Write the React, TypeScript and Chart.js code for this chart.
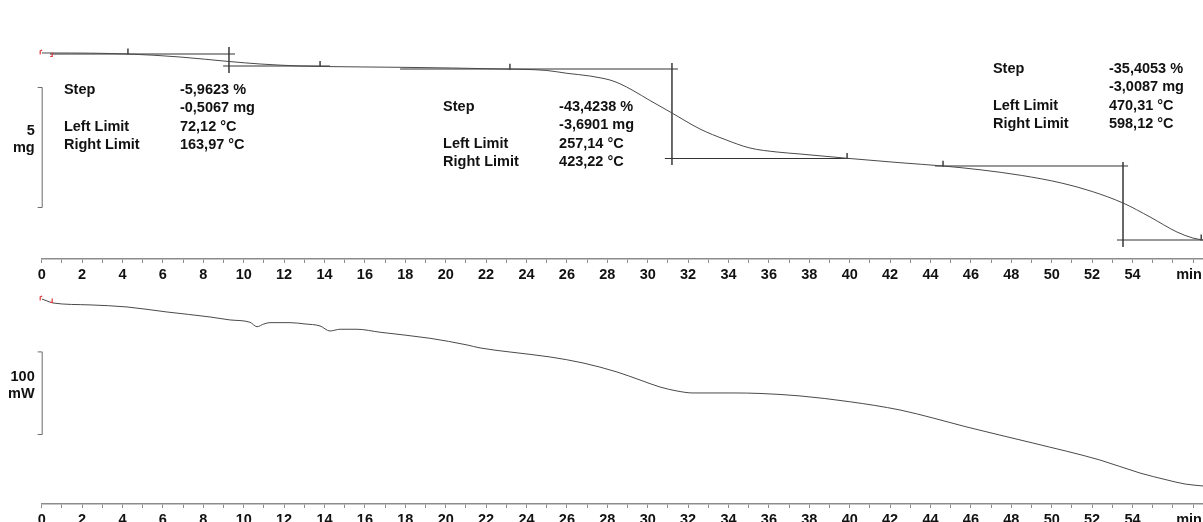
import React, { useEffect, useRef } from "react";
import { Chart, registerables } from "chart.js";

Chart.register(...registerables);

const FONT = '"Liberation Sans", Arial, Helvetica, sans-serif';
const X_MAX = 57.49;

// x axis: minor ticks every minute, labels every 2 minutes, unit label "min"
const xMinorTicks = Array.from({ length: 58 }, (_, i) => i);
const xTickLabels = ["0", "2", "4", "6", "8", "10", "12", "14", "16", "18", "20", "22", "24", "26", "28", "30", "32", "34", "36", "38", "40", "42", "44", "46", "48", "50", "52", "54"];
const xUnitTick = 56.8;
const xUnitLabel = "min";

// TGA curve (time in min, mass in mg)
const tgaTime = [0, 0.56, 4.27, 6.85, 9.27, 10.81, 12.79, 13.78, 17.74, 22.84, 25.01, 26.0, 27.14, 27.64, 28.13, 28.63, 29.27, 30.11, 31.2, 32.59, 33.83, 35.06, 36.4, 37.54, 39.87, 42.49, 44.62, 46.5, 48.5, 50.5, 52.0, 53.53, 54.87, 56.2, 56.99, 57.49];
const tgaMass = [8.5, 8.5, 8.458, 8.333, 8.146, 8.042, 7.958, 7.938, 7.904, 7.833, 7.771, 7.654, 7.542, 7.467, 7.375, 7.217, 6.938, 6.521, 6.0, 5.333, 4.896, 4.542, 4.375, 4.292, 4.113, 3.929, 3.792, 3.63, 3.4, 3.08, 2.73, 2.25, 1.667, 1.042, 0.79, 0.708];

// DSC curve (time in min, heat flow in mW, arbitrary offset)
const dscTime = [0, 0.26, 0.56, 2.39, 4.22, 6.2, 8.33, 9.32, 10.31, 10.66, 11.0, 11.3, 12.29, 13.04, 13.78, 14.27, 14.77, 15.61, 16.75, 19.22, 21.06, 21.7, 23.18, 25.16, 26.8, 28.48, 29.62, 30.61, 31.45, 32.24, 34.22, 35.56, 37.54, 40.0, 42.49, 44.12, 45.8, 49.07, 52.38, 54.37, 55.71, 56.6, 57.49];
const dscPower = [248.2, 245.8, 243.3, 241.0, 238.5, 232.4, 226.4, 222.8, 220.0, 214.6, 217.9, 219.5, 219.5, 217.9, 215.5, 209.4, 211.5, 211.5, 207.9, 200.6, 192.5, 188.9, 184.0, 178.0, 170.7, 159.8, 150.1, 141.6, 136.8, 134.4, 134.4, 133.8, 130.8, 123.8, 113.8, 104.1, 93.2, 73.8, 53.3, 37.5, 29.1, 24.2, 21.8];

// step evaluation construction lines
const stepHorizT0 = [0.41, 8.98, 17.74, 30.85, 44.22, 53.23];
const stepHorizT1 = [9.57, 14.27, 31.5, 40.0, 53.78, 57.49];
const stepHorizMass = [8.458, 7.958, 7.833, 4.104, 3.792, 0.708];
const stepVertT = [9.27, 31.2, 53.53];
const stepVertMass0 = [8.75, 8.083, 3.958];
const stepVertMass1 = [7.667, 3.833, 0.417];

// limit cursor marks on the TGA curve
const markTime = [4.27, 13.78, 23.18, 39.87, 44.62, 57.4];
const markMass = [8.56, 8.04, 7.93, 4.21, 3.89, 0.81];

// step result texts
const stepRowNames = ["Step", "", "Left Limit", "Right Limit"];
const step1Values = ["-5,9623 %", "-0,5067 mg", "72,12 °C", "163,97 °C"];
const step2Values = ["-43,4238 %", "-3,6901 mg", "257,14 °C", "423,22 °C"];
const step3Values = ["-35,4053 %", "-3,0087 mg", "470,31 °C", "598,12 °C"];
const stepTextT = [1.1, 19.87, 47.09];
const stepTextMass = [6.958, 6.25, 7.833];

// scale bars
const massBarBase = 2.083;
const massBarLen = 5;
const massBarLabel = ["5", "mg"];
const powerBarBase = 84.7;
const powerBarLen = 100;
const powerBarLabel = ["100", "mW"];

const AXIS_COLOR = "#8c8c8c";
const TEXT_COLOR = "#111111";
const CURVE_COLOR = "#4a4a4a";
const LINE_COLOR = "#333333";
const VLINE_COLOR = "#555555";
const RED = "#e0383a";

function xScale() {
  const tickVals = [...xMinorTicks.filter((v) => v < xUnitTick), xUnitTick, ...xMinorTicks.filter((v) => v > xUnitTick)];
  return {
    type: "linear",
    min: 0,
    max: X_MAX,
    afterBuildTicks: (s: any) => {
      s.ticks = tickVals.map((v) => ({ value: v }));
    },
    afterFit: (s: any) => {
      s.height = 24;
    },
    border: { display: true, color: AXIS_COLOR, width: 1.5 },
    grid: {
      display: true,
      drawOnChartArea: false,
      drawTicks: true,
      tickLength: 4,
      tickWidth: 1,
      color: (c: any) => (c.tick && c.tick.value === xUnitTick ? "rgba(0,0,0,0)" : AXIS_COLOR),
    },
    ticks: {
      autoSkip: false,
      maxRotation: 0,
      minRotation: 0,
      padding: 3,
      color: TEXT_COLOR,
      font: { family: FONT, size: 14.5, weight: "bold" },
      callback: (v: number) => {
        if (v === xUnitTick) return xUnitLabel;
        const s = String(v);
        return xTickLabels.includes(s) ? s : "";
      },
    },
  };
}

function drawBar(ctx: CanvasRenderingContext2D, x: number, yTop: number, yBot: number, labels: string[]) {
  ctx.strokeStyle = "#6a6a6a";
  ctx.lineWidth = 1;
  ctx.beginPath();
  ctx.moveTo(x - 4, yTop + 0.5);
  ctx.lineTo(x + 0.5, yTop + 0.5);
  ctx.lineTo(x + 0.5, yBot + 0.5);
  ctx.lineTo(x - 4, yBot + 0.5);
  ctx.stroke();
  const mid = (yTop + yBot) / 2;
  ctx.fillStyle = TEXT_COLOR;
  ctx.font = `bold 14.5px ${FONT}`;
  ctx.textAlign = "right";
  ctx.textBaseline = "middle";
  ctx.fillText(labels[0], x - 7, mid - 16);
  ctx.fillText(labels[1], x - 7, mid + 1);
}

function drawStartMark(ctx: CanvasRenderingContext2D, x0: number, y0: number) {
  ctx.strokeStyle = RED;
  ctx.lineWidth = 1.2;
  ctx.beginPath();
  ctx.moveTo(x0 + 0.5, y0 - 3);
  ctx.lineTo(x0 - 1.5, y0 - 2);
  ctx.lineTo(x0 - 1.5, y0 + 1.5);
  ctx.stroke();
  ctx.beginPath();
  ctx.moveTo(x0 + 10.5, y0 - 0.5);
  ctx.lineTo(x0 + 10.5, y0 + 3.5);
  ctx.lineTo(x0 + 8.5, y0 + 3.5);
  ctx.stroke();
}

const tgaDecor = {
  id: "tgaDecor",
  afterDraw(chart: any) {
    const { ctx, scales } = chart;
    const x = scales.x;
    const y = scales.y;
    ctx.save();
    drawBar(ctx, x.getPixelForValue(0), y.getPixelForValue(massBarBase + massBarLen), y.getPixelForValue(massBarBase), massBarLabel);
    drawStartMark(ctx, x.getPixelForValue(0), y.getPixelForValue(tgaMass[0]));
    const blocks = [step1Values, step2Values, step3Values];
    ctx.font = `bold 14.5px ${FONT}`;
    ctx.fillStyle = TEXT_COLOR;
    ctx.textAlign = "left";
    ctx.textBaseline = "middle";
    blocks.forEach((vals, i) => {
      const px = x.getPixelForValue(stepTextT[i]);
      const py = y.getPixelForValue(stepTextMass[i]);
      vals.forEach((v, r) => {
        const yy = py + r * 18.3;
        if (stepRowNames[r]) ctx.fillText(stepRowNames[r], px, yy);
        ctx.fillText(v, px + 116, yy);
      });
    });
    ctx.restore();
  },
};

const dscDecor = {
  id: "dscDecor",
  afterDraw(chart: any) {
    const { ctx, scales } = chart;
    const x = scales.x;
    const y = scales.y;
    ctx.save();
    drawBar(ctx, x.getPixelForValue(0), y.getPixelForValue(powerBarBase + powerBarLen), y.getPixelForValue(powerBarBase), powerBarLabel);
    drawStartMark(ctx, x.getPixelForValue(0), y.getPixelForValue(dscPower[0]));
    ctx.restore();
  },
};

function lineDs(points: { x: number; y: number }[], color: string, smooth: boolean) {
  return {
    type: "line",
    data: points,
    borderColor: color,
    borderWidth: 1,
    pointRadius: 0,
    pointHoverRadius: 0,
    fill: false,
    cubicInterpolationMode: smooth ? "monotone" : "default",
    tension: 0,
  };
}

function topConfig(): any {
  const datasets: any[] = [];
  datasets.push(lineDs(tgaTime.map((t, i) => ({ x: t, y: tgaMass[i] })), CURVE_COLOR, true));
  stepHorizMass.forEach((m, i) => {
    datasets.push(lineDs([{ x: stepHorizT0[i], y: m }, { x: stepHorizT1[i], y: m }], LINE_COLOR, false));
  });
  stepVertT.forEach((t, i) => {
    datasets.push(lineDs([{ x: t, y: stepVertMass0[i] }, { x: t, y: stepVertMass1[i] }], VLINE_COLOR, false));
  });
  datasets.push({
    type: "line",
    data: markTime.map((t, i) => ({ x: t, y: markMass[i] })),
    showLine: false,
    pointStyle: "line",
    rotation: 90,
    pointRadius: 3,
    pointHoverRadius: 3,
    borderColor: "#111",
    borderWidth: 1.2,
  });
  return {
    type: "line",
    data: { datasets },
    options: {
      responsive: false,
      animation: false,
      devicePixelRatio: 1,
      layout: { autoPadding: false, padding: { left: 41.7, right: 0, top: 0, bottom: 0 } },
      plugins: { legend: { display: false }, tooltip: { enabled: false } },
      events: [],
      scales: {
        x: xScale(),
        y: { type: "linear", display: false, min: -0.083, max: 10.708 },
      },
    },
    plugins: [tgaDecor],
  };
}

function bottomConfig(): any {
  return {
    type: "line",
    data: {
      datasets: [lineDs(dscTime.map((t, i) => ({ x: t, y: dscPower[i] })), CURVE_COLOR, true)],
    },
    options: {
      responsive: false,
      animation: false,
      devicePixelRatio: 1,
      layout: { autoPadding: false, padding: { left: 41.7, right: 0, top: 0, bottom: 0 } },
      plugins: { legend: { display: false }, tooltip: { enabled: false } },
      events: [],
      scales: {
        x: xScale(),
        y: { type: "linear", display: false, min: 0, max: 267.5 },
      },
    },
    plugins: [dscDecor],
  };
}

export default function App() {
  const topRef = useRef<HTMLCanvasElement>(null);
  const botRef = useRef<HTMLCanvasElement>(null);
  useEffect(() => {
    const c1 = new Chart(topRef.current as HTMLCanvasElement, topConfig());
    const c2 = new Chart(botRef.current as HTMLCanvasElement, bottomConfig());
    return () => {
      c1.destroy();
      c2.destroy();
    };
  }, []);
  return (
    <div style={{ position: "absolute", left: 0, top: 0, width: 1203, height: 522, overflow: "hidden", background: "#ffffff" }}>
      <canvas ref={topRef} width={1203} height={283} style={{ position: "absolute", left: 0, top: 0, width: 1203, height: 283, display: "block" }} />
      <canvas ref={botRef} width={1203} height={245} style={{ position: "absolute", left: 0, top: 283, width: 1203, height: 245, display: "block" }} />
    </div>
  );
}
